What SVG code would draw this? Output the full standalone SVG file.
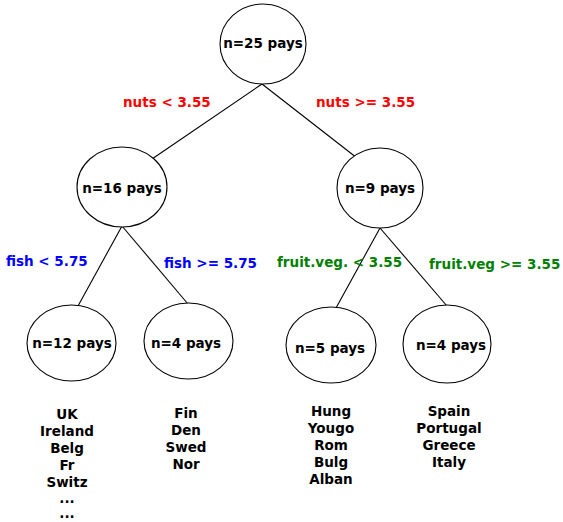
<svg xmlns="http://www.w3.org/2000/svg" width="563" height="522" viewBox="0 0 563 522">
  <style>
    text { font-family: "DejaVu Sans", "Liberation Sans", sans-serif; font-weight: bold; font-size: 13.5px; text-anchor: middle; }
    .node ellipse { fill: #ffffff; stroke: #000000; stroke-width: 1.1; }
    .edges line { stroke: #000000; stroke-width: 1.1; }
    .red { fill: #ff0000; }
    .blue { fill: #0000ff; }
    .green { fill: #008000; }
    .lbl { text-anchor: start; }
  </style>
  <rect width="563" height="522" fill="#ffffff"/>

  <!-- connectors -->
  <g class="edges">
    <line x1="262" y1="84" x2="152" y2="159"/>
    <line x1="262" y1="84" x2="357" y2="158"/>
    <line x1="122" y1="226" x2="78" y2="306"/>
    <line x1="122" y1="226" x2="188" y2="304"/>
    <line x1="380" y1="228" x2="336" y2="308"/>
    <line x1="380" y1="228" x2="447" y2="306"/>
  </g>

  <!-- split labels -->
  <g id="split-labels">
    <text class="red lbl" x="123" y="107">nuts &lt; 3.55</text>
    <text class="red lbl" x="316" y="107">nuts &gt;= 3.55</text>
    <text class="blue lbl" x="6" y="266">fish &lt; 5.75</text>
    <text class="blue lbl" x="164" y="268">fish &gt;= 5.75</text>
    <text class="green lbl" x="277" y="267">fruit.veg. &lt; 3.55</text>
    <text class="green lbl" x="429" y="269">fruit.veg &gt;= 3.55</text>
  </g>

  <g id="root" class="node">
    <ellipse cx="263" cy="44" rx="43" ry="40"/>
    <text x="263" y="48">n=25 pays</text>
  </g>
  <g id="n16" class="node">
    <ellipse cx="122" cy="187" rx="45" ry="40"/>
    <text x="122" y="193">n=16 pays</text>
  </g>
  <g id="n9" class="node">
    <ellipse cx="380" cy="188" rx="43" ry="40"/>
    <text x="380" y="193">n=9 pays</text>
  </g>
  <g id="n12" class="node">
    <ellipse cx="71.5" cy="343" rx="44.5" ry="38"/>
    <text x="72" y="348">n=12 pays</text>
  </g>
  <g id="n4a" class="node">
    <ellipse cx="188.5" cy="341" rx="44.5" ry="38"/>
    <text x="186" y="348">n=4 pays</text>
  </g>
  <g id="n5" class="node">
    <ellipse cx="331" cy="345" rx="45" ry="38"/>
    <text x="330" y="353">n=5 pays</text>
  </g>
  <g id="n4b" class="node">
    <ellipse cx="447" cy="344" rx="44" ry="39"/>
    <text x="451" y="350">n=4 pays</text>
  </g>

  <!-- country lists under the leaves -->
  <g id="list-n12">
    <text x="67" y="419">UK</text>
    <text x="67" y="436">Ireland</text>
    <text x="67" y="453">Belg</text>
    <text x="67" y="470">Fr</text>
    <text x="67" y="487">Switz</text>
    <text x="67" y="503">...</text>
    <text x="67" y="518">...</text>
  </g>
  <g id="list-n4a">
    <text x="186" y="418">Fin</text>
    <text x="186" y="435">Den</text>
    <text x="186" y="452">Swed</text>
    <text x="186" y="469">Nor</text>
  </g>
  <g id="list-n5">
    <text x="331" y="416">Hung</text>
    <text x="331" y="433">Yougo</text>
    <text x="331" y="450">Rom</text>
    <text x="331" y="467">Bulg</text>
    <text x="331" y="484">Alban</text>
  </g>
  <g id="list-n4b">
    <text x="449" y="416">Spain</text>
    <text x="449" y="433">Portugal</text>
    <text x="449" y="450">Greece</text>
    <text x="449" y="467">Italy</text>
  </g>
</svg>
